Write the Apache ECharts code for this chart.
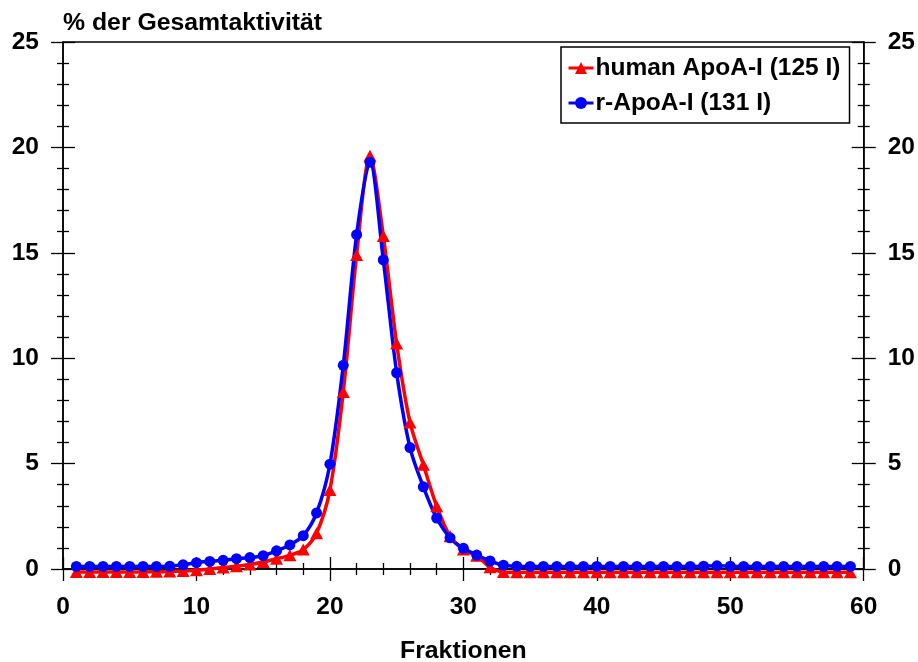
<!DOCTYPE html>
<html>
<head>
<meta charset="utf-8">
<script src="https://cdn.jsdelivr.net/npm/echarts@6/dist/echarts.min.js"></script>
<style>
html,body{margin:0;padding:0;background:#fff;}
#chart{width:918px;height:662px;}
</style>
</head>
<body>
<div id="chart"></div>
<script>
// Fractions 1..59
const fractions = [1,2,3,4,5,6,7,8,9,10,11,12,13,14,15,16,17,18,19,20,21,22,23,24,25,26,27,28,29,30,31,32,33,34,35,36,37,38,39,40,41,42,43,44,45,46,47,48,49,50,51,52,53,54,55,56,57,58,59];

// human ApoA-I (125 I) – red triangles
const humanValues = [-0.14,-0.14,-0.14,-0.14,-0.14,-0.14,-0.13,-0.12,-0.1,-0.06,0,0.07,0.13,0.21,0.33,0.49,0.65,0.92,1.7,3.75,8.4,14.9,19.6,15.8,10.7,6.95,4.95,2.98,1.55,0.92,0.63,0.08,-0.14,-0.15,-0.15,-0.15,-0.15,-0.15,-0.15,-0.15,-0.15,-0.15,-0.15,-0.15,-0.15,-0.15,-0.15,-0.15,-0.15,-0.15,-0.15,-0.15,-0.15,-0.15,-0.15,-0.15,-0.15,-0.15,-0.15];

// r-ApoA-I (131 I) – blue circles
const rValues = [0.12,0.12,0.12,0.12,0.12,0.12,0.12,0.13,0.2,0.3,0.36,0.41,0.49,0.54,0.63,0.86,1.14,1.58,2.66,4.97,9.66,15.86,19.3,14.66,9.31,5.76,3.9,2.42,1.48,0.98,0.66,0.38,0.18,0.13,0.12,0.12,0.12,0.12,0.12,0.12,0.12,0.12,0.12,0.12,0.12,0.12,0.12,0.13,0.15,0.13,0.12,0.12,0.12,0.12,0.12,0.12,0.12,0.12,0.12];

const seriesNames = ['human ApoA-I (125 I)', 'r-ApoA-I (131 I)'];
const yTitle = '% der Gesamtaktivität';
const xTitle = 'Fraktionen';

const FONT = '"Liberation Sans", Arial, Helvetica, sans-serif';
const black = '#000';

function pairs(vals){ return fractions.map((f,i)=>[f, vals[i]]); }

function xAxisDef(inside, showLabel){
  return {
    type:'value', position:'bottom', min:0, max:60, interval:10,
    axisLine:{show:!inside, onZero:false, lineStyle:{color:black,width:1.5}},
    axisTick:{show:true, inside:inside, length:12, lineStyle:{color:black,width:1.3}},
    minorTick:{show:true, splitNumber:5, length:6, lineStyle:{color:black,width:1.3}},
    axisLabel:{show:showLabel, margin:26, color:black, fontSize:24.5, fontWeight:'bold', fontFamily:FONT},
    splitLine:{show:false}, minorSplitLine:{show:false}
  };
}
function yAxisDef(pos, inside, showLabel){
  return {
    type:'value', position:pos, offset:0, min:0, max:25, interval:5,
    axisLine:{show:!inside, onZero:false, lineStyle:{color:black,width:1.5}},
    axisTick:{show:true, inside:inside, length:12, lineStyle:{color:black,width:1.3}},
    minorTick:{show:true, splitNumber:5, length:6, lineStyle:{color:black,width:1.3}},
    axisLabel:{show:showLabel, margin:24, color:black, fontSize:24.5, fontWeight:'bold', fontFamily:FONT},
    splitLine:{show:false}, minorSplitLine:{show:false}
  };
}

const chart = echarts.init(document.getElementById('chart'), null, {renderer:'canvas'});
chart.setOption({
  animation:false,
  backgroundColor:'#fff',
  title:[
    {text:yTitle, left:63, top:11, padding:0,
     textStyle:{color:black, fontSize:24.8, fontWeight:'bold', fontFamily:FONT}},
    {text:xTitle, left:400, top:639, padding:0,
     textStyle:{color:black, fontSize:24.8, fontWeight:'bold', fontFamily:FONT}}
  ],
  grid:{left:63, right:54, top:42, bottom:93, show:true, borderColor:black, borderWidth:1.5, backgroundColor:'transparent', containLabel:false},
  legend:{
    orient:'vertical', left:561, top:47,
    padding:[8,9,7,6], itemGap:9, itemWidth:25, itemHeight:15,
    borderColor:black, borderWidth:1.5, borderRadius:0, backgroundColor:'#fff',
    lineStyle:{width:3},
    textStyle:{color:black, fontSize:24.5, fontWeight:'bold', fontFamily:FONT, lineHeight:26, padding:[0,0,0,-3]},
    data:seriesNames
  },
  xAxis:[xAxisDef(false,true), xAxisDef(true,false)],
  yAxis:[yAxisDef('left',false,true), yAxisDef('left',true,false), yAxisDef('right',false,true), yAxisDef('right',true,false)],
  series:[
    {
      name:seriesNames[0], type:'line', xAxisIndex:0, yAxisIndex:0,
      data:pairs(humanValues), clip:false, smooth:0.3,
      symbol:'triangle', symbolSize:[13,12],
      itemStyle:{color:'#ff0000'},
      lineStyle:{color:'#ff0000', width:3.5}
    },
    {
      name:seriesNames[1], type:'line', xAxisIndex:0, yAxisIndex:0,
      data:pairs(rValues), clip:false, smooth:0.3,
      symbol:'circle', symbolSize:11,
      itemStyle:{color:'#0000ff'},
      lineStyle:{color:'#0000ff', width:3.5}
    }
  ]
});
</script>
</body>
</html>
